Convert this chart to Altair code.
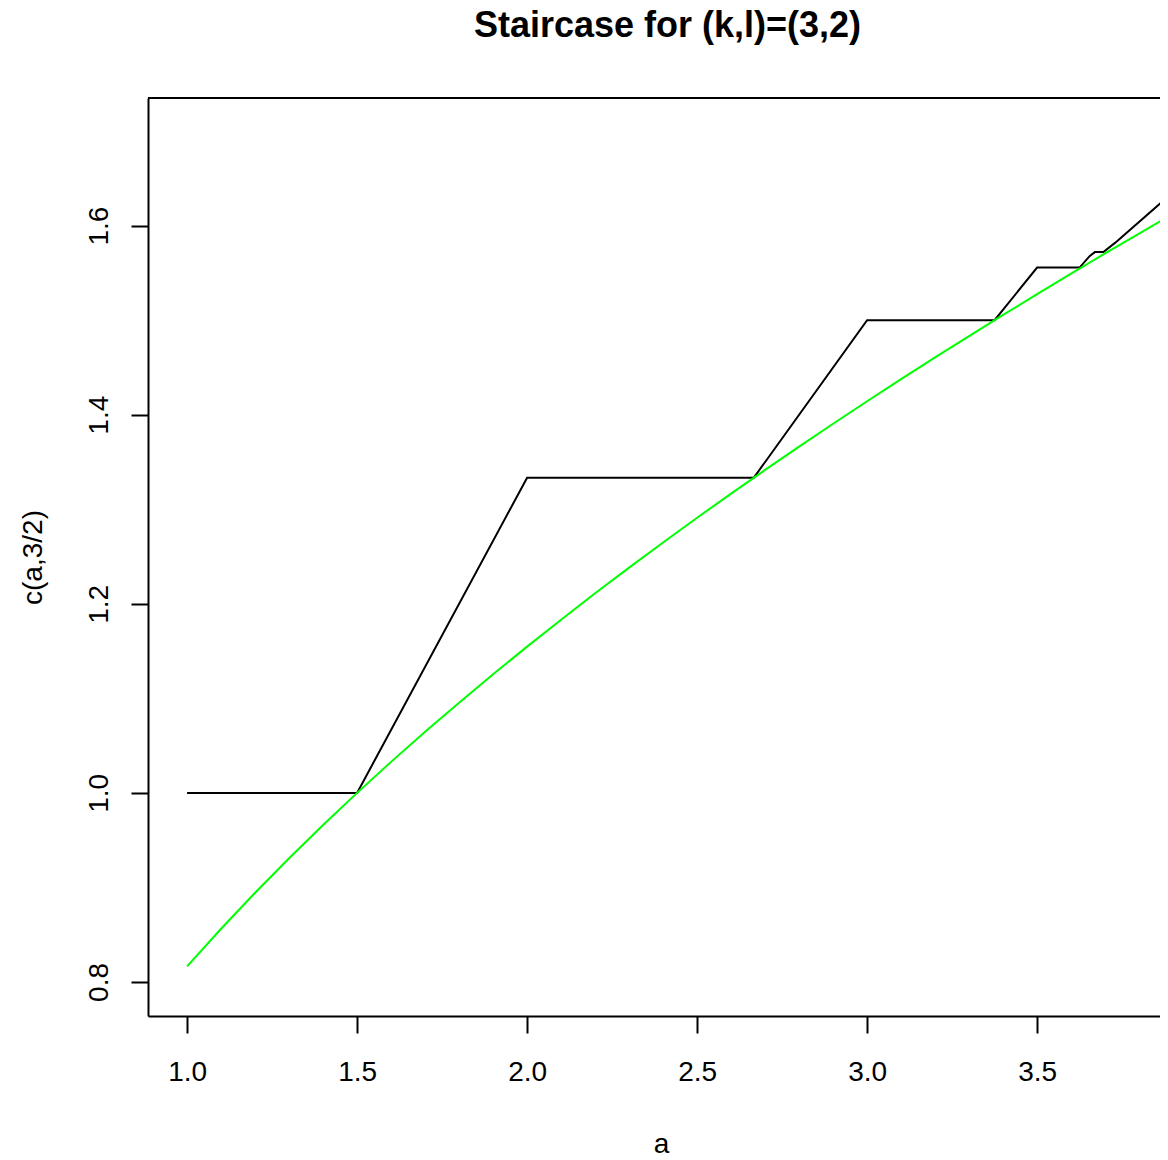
import altair as alt
import pandas as pd

# Staircase (black)
stair_a = [1.0, 1.5, 2.0, 2.6667, 3.0, 3.375, 3.5, 3.625, 3.655, 3.67, 3.695, 3.73, 4.0]
stair_c = [1.0, 1.0, 1.3333, 1.3333, 1.5, 1.5, 1.5556, 1.5556, 1.568, 1.572, 1.572, 1.582, 1.6667]

# Smooth curve (green)
curve_a = [1.0, 1.1, 1.2, 1.3, 1.4, 1.5, 1.6, 1.7, 1.8, 1.9, 2.0, 2.1, 2.2, 2.3, 2.4, 2.5,
           2.6, 2.7, 2.8, 2.9, 3.0, 3.1, 3.2, 3.3, 3.4, 3.5, 3.6, 3.7, 3.8, 3.9, 4.0]
curve_c = [0.8165, 0.8563, 0.8944, 0.9309, 0.9661, 1.0, 1.0328, 1.0646, 1.0954, 1.1255,
           1.1547, 1.1832, 1.2111, 1.2383, 1.2649, 1.2910, 1.3166, 1.3416, 1.3663, 1.3904,
           1.4142, 1.4376, 1.4606, 1.4832, 1.5055, 1.5275, 1.5492, 1.5706, 1.5916, 1.6125,
           1.6330]

x_ticks = [1.0, 1.5, 2.0, 2.5, 3.0, 3.5]
y_ticks = [0.8, 1.0, 1.2, 1.4, 1.6]

W, H = 1012, 918
X_DOMAIN = [0.885, 0.885 + W / 340.0]
Y_DOMAIN = [0.764, 1.735]
FONT = "Liberation Sans"

stair = pd.DataFrame({"a": stair_a, "c": stair_c, "order": list(range(len(stair_a)))})
curve = pd.DataFrame({"a": curve_a, "c": curve_c, "order": list(range(len(curve_a)))})

xscale = alt.Scale(domain=X_DOMAIN, nice=False, zero=False)
yscale = alt.Scale(domain=Y_DOMAIN, nice=False, zero=False)

x_axis = alt.Axis(
    values=x_ticks, format=".1f", grid=False, title="a",
    domainColor="black", domainWidth=2, tickColor="black", tickWidth=2, tickSize=17,
    labelFont=FONT, labelFontSize=28, labelColor="black", labelBaseline="alphabetic",
    labelPadding=47, labelFlush=False,
    titleFont=FONT, titleFontSize=28, titleFontWeight="normal", titleColor="black",
    titleBaseline="alphabetic", titleX=513, titleY=136, titleAlign="center",
)
y_axis = alt.Axis(
    values=y_ticks, format=".1f", grid=False, title="c(a,3/2)",
    domainColor="black", domainWidth=2, tickColor="black", tickWidth=2, tickSize=17,
    labelFont=FONT, labelFontSize=28, labelColor="black", labelAngle=270,
    labelAlign="center", labelBaseline="alphabetic", labelPadding=24, labelFlush=False,
    titleFont=FONT, titleFontSize=28, titleFontWeight="normal", titleColor="black",
    titleAngle=270, titleBaseline="alphabetic", titleAlign="center",
    titleX=-107, titleY=H / 2,
)

stair_line = alt.Chart(stair).mark_line(color="black", strokeWidth=2, clip=True).encode(
    x=alt.X("a:Q", scale=xscale, axis=x_axis),
    y=alt.Y("c:Q", scale=yscale, axis=y_axis),
    order="order:Q",
)
curve_line = alt.Chart(curve).mark_line(color="#00FF00", strokeWidth=2, clip=True).encode(
    x=alt.X("a:Q", scale=xscale),
    y=alt.Y("c:Q", scale=yscale),
    order="order:Q",
)
top_border = alt.Chart(pd.DataFrame({"c": [Y_DOMAIN[1]]})).mark_rule(color="black", strokeWidth=2).encode(
    y=alt.Y("c:Q", scale=yscale),
    x=alt.value(0),
    x2=alt.value(W),
)

chart = alt.layer(stair_line, curve_line, top_border).properties(
    width=W,
    height=H,
    title=alt.TitleParams(
        "Staircase for (k,l)=(3,2)", font=FONT, fontSize=36, fontWeight="bold",
        color="black", anchor="middle", baseline="alphabetic", offset=24, dx=13.5,
    ),
    autosize=alt.AutoSizeParams(type="none"),
    padding={"left": 140, "top": 90, "right": 0, "bottom": 144},
).configure_view(stroke=None).configure(background="white")

chart.save("out.html", embed_options={"renderer": "svg", "actions": False})
